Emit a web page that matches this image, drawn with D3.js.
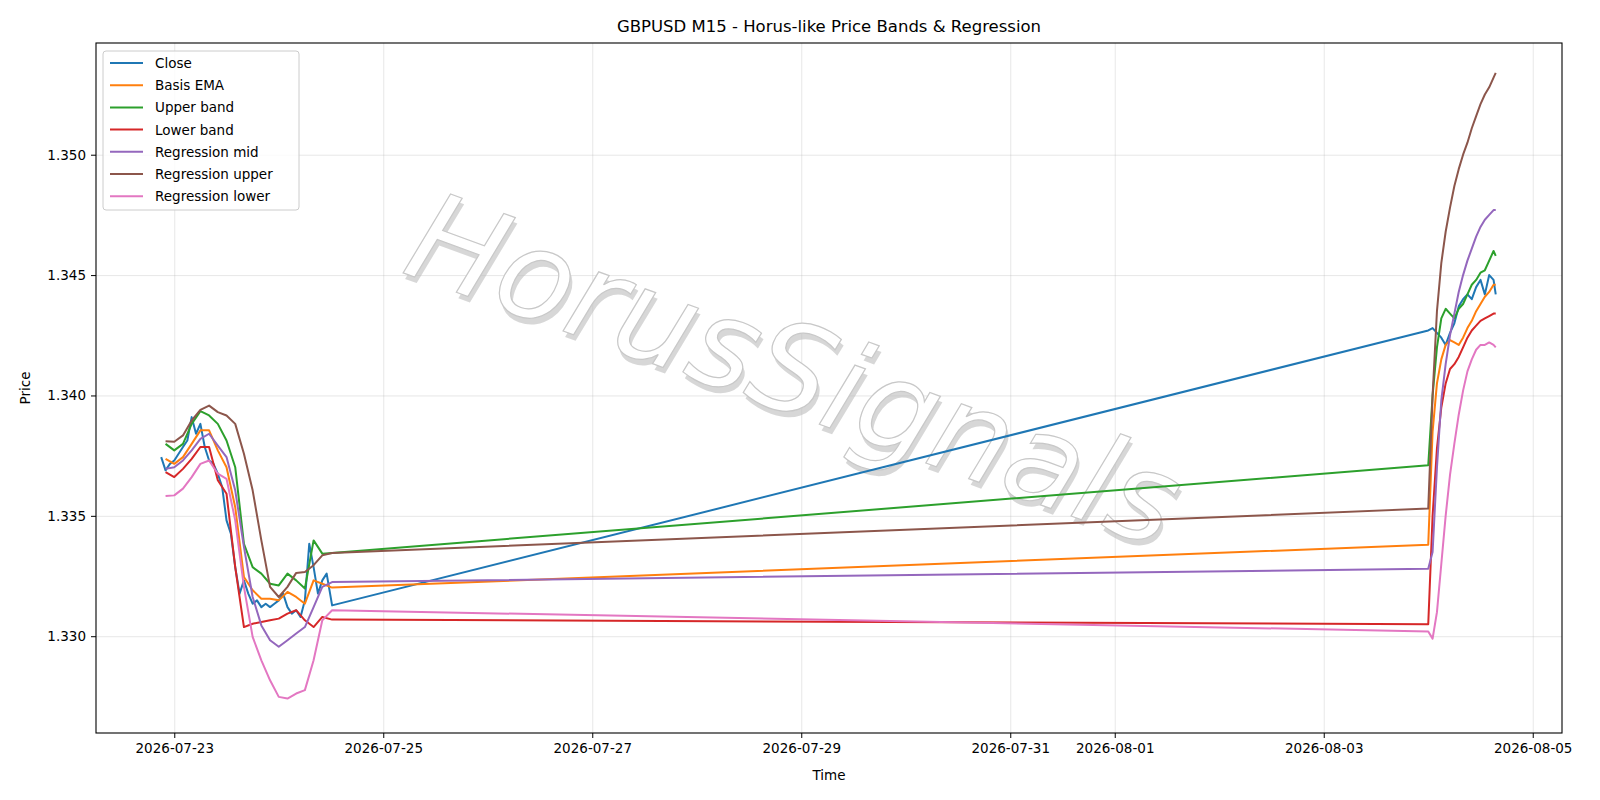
<!DOCTYPE html>
<html>
<head>
<meta charset="utf-8">
<title>GBPUSD M15</title>
<script src="https://cdn.jsdelivr.net/npm/d3@7"></script>
<style>
	body{margin:0;background:#fff;}
	svg text{font-family:"DejaVu Sans",sans-serif;}
	.grid line{stroke:#b0b0b0;stroke-opacity:.3;}
	.grid path{display:none;}
</style>
</head>
<body>
<div id="chart"></div>
<script>
/* bar times: first block 2-hourly / hourly from 07-22 21:00, second block hourly from 08-04 00:00 */
var parse = d3.timeParse("%Y-%m-%d %H:%M");
var band_times1 = d3.timeHour.every(2).range(parse("2026-07-22 21:00"), parse("2026-07-24 12:00")).concat([parse("2026-07-24 12:15")]);
var close_times1 = d3.timeHour.range(parse("2026-07-22 21:00"), parse("2026-07-24 12:00")).concat([parse("2026-07-24 12:15")]);
var times2 = d3.timeHour.range(parse("2026-08-04 00:00"), parse("2026-08-04 15:30")).concat([parse("2026-08-04 15:30")]);

var close1 = [1.33744,1.33689,1.33716,1.33730,1.33758,1.33786,1.33813,1.33910,1.33841,1.33882,1.33786,1.33730,1.33716,1.33675,1.33620,1.33481,1.33426,1.33287,1.33177,1.33232,1.33177,1.33135,1.33149,1.33121,1.33135,1.33121,1.33135,1.33149,1.33177,1.33121,1.33094,1.33108,1.33080,1.33149,1.33384,1.33287,1.33177,1.33232,1.33260,1.33128];
var close2 = [1.3427,1.3428,1.3426,1.3424,1.3421,1.3426,1.3430,1.3437,1.3440,1.3442,1.3440,1.3445,1.3448,1.3442,1.3450,1.3448,1.3442];

var ema1 = [1.33737,1.33716,1.33744,1.33799,1.33855,1.33855,1.33772,1.33702,1.33536,1.33246,1.33191,1.33156,1.33156,1.33149,1.33184,1.33163,1.33135,1.33232,1.33218,1.33202,1.33202];
var ema2 = [1.3338,1.3385,1.3405,1.3415,1.3421,1.3423,1.3422,1.3421,1.3424,1.3428,1.3431,1.3435,1.3438,1.3441,1.3443,1.3446,1.3446];

var upper1 = [1.33799,1.33772,1.33799,1.33882,1.33935,1.33917,1.33882,1.33813,1.33702,1.33384,1.33287,1.33260,1.33218,1.33211,1.33260,1.33232,1.33198,1.33398,1.33343,1.33346,1.33336];
var upper2 = [1.3371,1.3400,1.3420,1.3432,1.3436,1.3434,1.3432,1.3436,1.3438,1.3442,1.3446,1.3448,1.3451,1.3452,1.3456,1.3460,1.3458];

var lower1 = [1.33682,1.33661,1.33695,1.33737,1.33786,1.33786,1.33648,1.33592,1.33287,1.33038,1.33052,1.33059,1.33066,1.33073,1.33094,1.33108,1.33066,1.33038,1.33080,1.33069,1.33066];
var lower2 = [1.3305,1.3350,1.3378,1.3395,1.3405,1.3411,1.3413,1.3416,1.3420,1.3424,1.3427,1.3429,1.3431,1.3432,1.3433,1.3434,1.3434];

var regmid1 = [1.33695,1.33702,1.33730,1.33772,1.33820,1.33841,1.33792,1.33744,1.33606,1.33371,1.33163,1.33045,1.32983,1.32956,1.32983,1.33011,1.33038,1.33121,1.33205,1.33225,1.33222];
var regmid2 = [1.3328,1.3335,1.3370,1.3398,1.3413,1.3425,1.3434,1.3443,1.3450,1.3456,1.3461,1.3466,1.3470,1.3473,1.3475,1.3477,1.3477];

var regup1 = [1.33810,1.33808,1.33834,1.33896,1.33940,1.33958,1.33931,1.33917,1.33882,1.33758,1.33606,1.33398,1.33205,1.33163,1.33205,1.33263,1.33267,1.33295,1.33336,1.33346,1.33346];
var regup2 = [1.3353,1.3400,1.3435,1.3455,1.3468,1.3478,1.3487,1.3494,1.3500,1.3505,1.3511,1.3516,1.3521,1.3525,1.3528,1.3532,1.3534];

var reglo1 = [1.33582,1.33585,1.33613,1.33661,1.33716,1.33730,1.33675,1.33654,1.33481,1.33205,1.32997,1.32900,1.32817,1.32748,1.32741,1.32762,1.32776,1.32900,1.33066,1.33108,1.33105];
var reglo2 = [1.3302,1.3299,1.3310,1.3330,1.3350,1.3367,1.3380,1.3392,1.3402,1.3410,1.3415,1.3419,1.3421,1.3421,1.3422,1.3421,1.3420];

var y_ticks = [1.330,1.335,1.340,1.345,1.350];
var x_ticks = ["2026-07-23","2026-07-25","2026-07-27","2026-07-29","2026-07-31","2026-08-01","2026-08-03","2026-08-05"];

var series = [
	{name:"Close", t1:close_times1, v1:close1, v2:close2},
	{name:"Basis EMA", t1:band_times1, v1:ema1, v2:ema2},
	{name:"Upper band", t1:band_times1, v1:upper1, v2:upper2},
	{name:"Lower band", t1:band_times1, v1:lower1, v2:lower2},
	{name:"Regression mid", t1:band_times1, v1:regmid1, v2:regmid2},
	{name:"Regression upper", t1:band_times1, v1:regup1, v2:regup2},
	{name:"Regression lower", t1:band_times1, v1:reglo1, v2:reglo2}
];
var colors = d3.schemeCategory10;

var W = 1600, H = 800;
var m = {l:96, r:1562, t:43, b:733};
var svg = d3.select("#chart").append("svg").attr("width",W).attr("height",H);

var day = 864e5, t0 = d3.timeParse("%Y-%m-%d")("2026-07-23").getTime();
var x = d3.scaleTime().domain([new Date(t0-0.749*day), new Date(t0+13.28*day)]).range([m.l,m.r]);
var y = d3.scaleLinear().domain([1.32598,1.35464]).range([m.b,m.t]);
var xt = x_ticks.map(d3.timeParse("%Y-%m-%d"));

/* grid */
svg.append("g").attr("class","grid").attr("transform","translate(0,"+m.b+")")
	.call(d3.axisBottom(x).tickValues(xt).tickSize(-(m.b-m.t)).tickFormat(""));
svg.append("g").attr("class","grid").attr("transform","translate("+m.l+",0)")
	.call(d3.axisLeft(y).tickValues(y_ticks).tickSize(-(m.r-m.l)).tickFormat(""));

/* watermark */
var wm = svg.append("g").attr("transform","translate(780,410) rotate(20)");
wm.append("text").attr("x",4).attr("y",5).attr("text-anchor","middle").attr("font-size",124)
	.attr("font-style","italic").attr("fill","#bdbdbd").attr("fill-opacity",.6).text("HorusSignals");
wm.append("text").attr("text-anchor","middle").attr("font-size",124).attr("font-style","italic")
	.attr("fill","#fff").attr("stroke","#c8c8c8").attr("stroke-width",1.2).text("HorusSignals");

/* lines */
var line = d3.line().x(function(d){return x(d[0]);}).y(function(d){return y(d[1]);});
var plot = svg.append("g");
series.slice().forEach(function(s,i){
	var pts = s.t1.map(function(t,j){return [t,s.v1[j]];})
		.concat(times2.map(function(t,j){return [t,s.v2[j]];}));
	s.pts = pts;
});
series.forEach(function(s,i){
	plot.append("path").attr("d",line(s.pts)).attr("fill","none")
		.attr("stroke",colors[i]).attr("stroke-width",2).attr("stroke-linejoin","round");
});

/* axes */
var xa = svg.append("g").attr("transform","translate(0,"+m.b+")")
	.call(d3.axisBottom(x).tickValues(xt).tickSize(5).tickPadding(5).tickFormat(d3.timeFormat("%Y-%m-%d")));
var ya = svg.append("g").attr("transform","translate("+m.l+",0)")
	.call(d3.axisLeft(y).tickValues(y_ticks).tickSize(5).tickPadding(5).tickFormat(d3.format(".3f")));
[xa,ya].forEach(function(a){
	a.select(".domain").remove();
	a.selectAll("text").attr("font-size",13.5).attr("fill","#000");
	a.selectAll(".tick line").attr("stroke","#000");
});
svg.append("rect").attr("x",m.l).attr("y",m.t).attr("width",m.r-m.l).attr("height",m.b-m.t)
	.attr("fill","none").attr("stroke","#000").attr("stroke-width",1.1);

svg.append("text").attr("x",(m.l+m.r)/2).attr("y",32).attr("text-anchor","middle").attr("font-size",16.5)
	.text("GBPUSD M15 - Horus-like Price Bands & Regression");
svg.append("text").attr("x",(m.l+m.r)/2).attr("y",780).attr("text-anchor","middle").attr("font-size",13.5).text("Time");
svg.append("text").attr("transform","translate(30,"+((m.t+m.b)/2)+") rotate(-90)").attr("text-anchor","middle")
	.attr("font-size",13.5).text("Price");

/* legend */
var lg = svg.append("g");
lg.append("rect").attr("x",103).attr("y",51).attr("width",196).attr("height",159).attr("rx",3)
	.attr("fill","#fff").attr("fill-opacity",.8).attr("stroke","#ccc");
series.forEach(function(s,i){
	var yy = 63 + i*22.2;
	lg.append("line").attr("x1",110).attr("x2",143).attr("y1",yy).attr("y2",yy)
		.attr("stroke",colors[i]).attr("stroke-width",2);
	lg.append("text").attr("x",155).attr("y",yy+5).attr("font-size",13.5).text(s.name);
});
</script>
</body>
</html>
